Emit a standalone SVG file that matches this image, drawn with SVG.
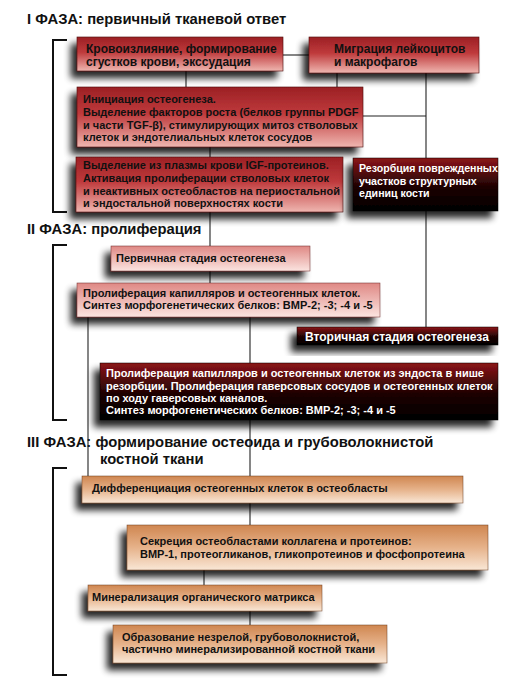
<svg xmlns="http://www.w3.org/2000/svg" width="511" height="683" viewBox="0 0 511 683">
<defs>
<style>
text{font-family:"Liberation Sans",Arial,sans-serif;font-weight:bold;fill:#111;}
.title{font-size:14.8px;}
.t12{font-size:12px;}
.t11{font-size:11px;}
.t10{font-size:10.6px;}
.w{fill:#fff;}
.conn{stroke:#222;stroke-width:1.1;fill:none;}
.br{stroke:#111;stroke-width:2;fill:none;}
.red{fill:url(#gRed);stroke:#4a0c0c;stroke-width:0.6;filter:url(#sh);}
.pink{fill:url(#gPink);stroke:#6a2a2a;stroke-width:0.5;filter:url(#sh);}
.dark{fill:url(#gDark);stroke:#000;stroke-width:0.5;filter:url(#sh);}
.org{fill:url(#gOrg);stroke:#6a3a1a;stroke-width:0.5;filter:url(#sh);}
</style>
<linearGradient id="gRed" x1="0" y1="0" x2="0" y2="1">
<stop offset="0" stop-color="#9c2024"/>
<stop offset="0.45" stop-color="#bf3a3c"/>
<stop offset="1" stop-color="#efb6b0"/>
</linearGradient>
<linearGradient id="gPink" x1="0" y1="0" x2="0" y2="1">
<stop offset="0" stop-color="#df8884"/>
<stop offset="1" stop-color="#fbe4e0"/>
</linearGradient>
<linearGradient id="gDark" x1="0" y1="0" x2="0" y2="1">
<stop offset="0" stop-color="#8c1416"/>
<stop offset="0.55" stop-color="#1c0404"/>
<stop offset="1" stop-color="#000"/>
</linearGradient>
<linearGradient id="gOrg" x1="0" y1="0" x2="0" y2="1">
<stop offset="0" stop-color="#cf8650"/>
<stop offset="0.5" stop-color="#e6b28a"/>
<stop offset="1" stop-color="#f9e7d6"/>
</linearGradient>
<filter id="sh" x="-10%" y="-30%" width="120%" height="190%">
<feGaussianBlur in="SourceAlpha" stdDeviation="3.5"/>
<feOffset dx="-6" dy="7" result="b"/>
<feComponentTransfer><feFuncA type="linear" slope="0.85"/></feComponentTransfer>
<feMerge><feMergeNode/><feMergeNode in="SourceGraphic"/></feMerge>
</filter>
</defs>
<rect width="511" height="683" fill="#fff"/>

<g id="titles">
<text class="title" x="27" y="24">I ФАЗА: первичный тканевой ответ</text>
<text class="title" x="27" y="234">II ФАЗА: пролиферация</text>
<text class="title" x="27" y="447">III  ФАЗА: формирование остеоида и грубоволокнистой</text>
<text class="title" x="100" y="464">костной ткани</text>
</g>

<g id="brackets">
<path class="br" d="M67,40 H53 V212 H67"/>
<path class="br" d="M67,245 H53 V420 H67"/>
<path class="br" d="M67,468 H53 V675 H67"/>
</g>

<g id="connectors">
<path class="conn" d="M283,55 H309"/>
<path class="conn" d="M186,71 V87"/>
<path class="conn" d="M337,73 V87"/>
<path class="conn" d="M426,73 V327"/>
<path class="conn" d="M363,116 H426"/>
<path class="conn" d="M210,147 V283"/>
<path class="conn" d="M88,317 V476"/>
<path class="conn" d="M250,317 V476"/>
<path class="conn" d="M250,503 V525"/>
<path class="conn" d="M204,570 V585"/>
<path class="conn" d="M250,611 V625"/>
</g>

<g id="n1">
<rect class="red" x="77" y="37" width="206" height="34"/>
<text class="t12" x="86" y="53">Кровоизлияние, формирование</text>
<text class="t12" x="86" y="66">сгустков крови, экссудация</text>
</g>
<g id="n2">
<rect class="red" x="309" y="37" width="170" height="36"/>
<text class="t12" x="334" y="53">Миграция лейкоцитов</text>
<text class="t12" x="334" y="66">и макрофагов</text>
</g>
<g id="n3">
<rect class="red" x="77" y="87" width="286" height="60"/>
<text class="t11" x="83" y="103">Инициация остеогенеза.</text>
<text class="t11" x="83" y="116">Выделение факторов роста (белков группы PDGF</text>
<text class="t11" x="83" y="129">и части TGF-β), стимулирующих митоз стволовых</text>
<text class="t11" x="83" y="141">клеток и эндотелиальных клеток сосудов</text>
</g>
<g id="n4">
<rect class="red" x="76" y="157" width="267" height="55"/>
<text class="t11" x="83" y="169">Выделение из плазмы крови IGF-протеинов.</text>
<text class="t11" x="83" y="182">Активация пролиферации стволовых клеток</text>
<text class="t11" x="83" y="195">и неактивных остеобластов на периостальной</text>
<text class="t11" x="83" y="207">и эндостальной поверхностях кости</text>
</g>
<g id="n5">
<rect class="dark" x="353" y="158" width="145" height="53"/>
<text class="t10 w" x="359" y="172">Резорбция поврежденных</text>
<text class="t10 w" x="359" y="185">участков структурных</text>
<text class="t10 w" x="359" y="197">единиц кости</text>
</g>

<g id="n6">
<rect class="pink" x="111" y="246" width="199" height="25"/>
<text class="t11" x="116" y="262">Первичная стадия остеогенеза</text>
</g>
<g id="n7">
<rect class="pink" x="77" y="283" width="303" height="34"/>
<text class="t11" x="83" y="297">Пролиферация капилляров и остеогенных клеток.</text>
<text class="t11" x="83" y="309">Синтез морфогенетических белков: BMP-2; -3; -4 и -5</text>
</g>
<g id="n8">
<rect class="dark" x="297" y="327" width="201" height="18"/>
<text class="t12 w" x="305" y="341">Вторичная стадия остеогенеза</text>
</g>
<g id="n9">
<rect class="dark" x="100" y="363" width="398" height="57"/>
<text class="t11 w" x="106" y="377">Пролиферация капилляров и остеогенных клеток из эндоста в нише</text>
<text class="t11 w" x="106" y="390">резорбции. Пролиферация гаверсовых сосудов и остеогенных клеток</text>
<text class="t11 w" x="106" y="402">по ходу гаверсовых каналов.</text>
<text class="t11 w" x="106" y="414">Синтез морфогенетических белков: BMP-2; -3; -4 и -5</text>
</g>

<g id="n10">
<rect class="org" x="82" y="476" width="381" height="27"/>
<text class="t11" x="92" y="492">Дифференциация остеогенных клеток в остеобласты</text>
</g>
<g id="n11">
<rect class="org" x="127" y="525" width="361" height="45"/>
<text class="t11" x="140" y="545">Секреция остеобластами коллагена и протеинов:</text>
<text class="t11" x="140" y="558">BMP-1, протеогликанов, гликопротеинов и фосфопротеина</text>
</g>
<g id="n12">
<rect class="org" x="88" y="585" width="234" height="26"/>
<text class="t11" x="92" y="601">Минерализация органического матрикса</text>
</g>
<g id="n13">
<rect class="org" x="113" y="625" width="274" height="38"/>
<text class="t11" x="122" y="641">Образование незрелой, грубоволокнистой,</text>
<text class="t11" x="122" y="653">частично минерализированной костной ткани</text>
</g>
</svg>
